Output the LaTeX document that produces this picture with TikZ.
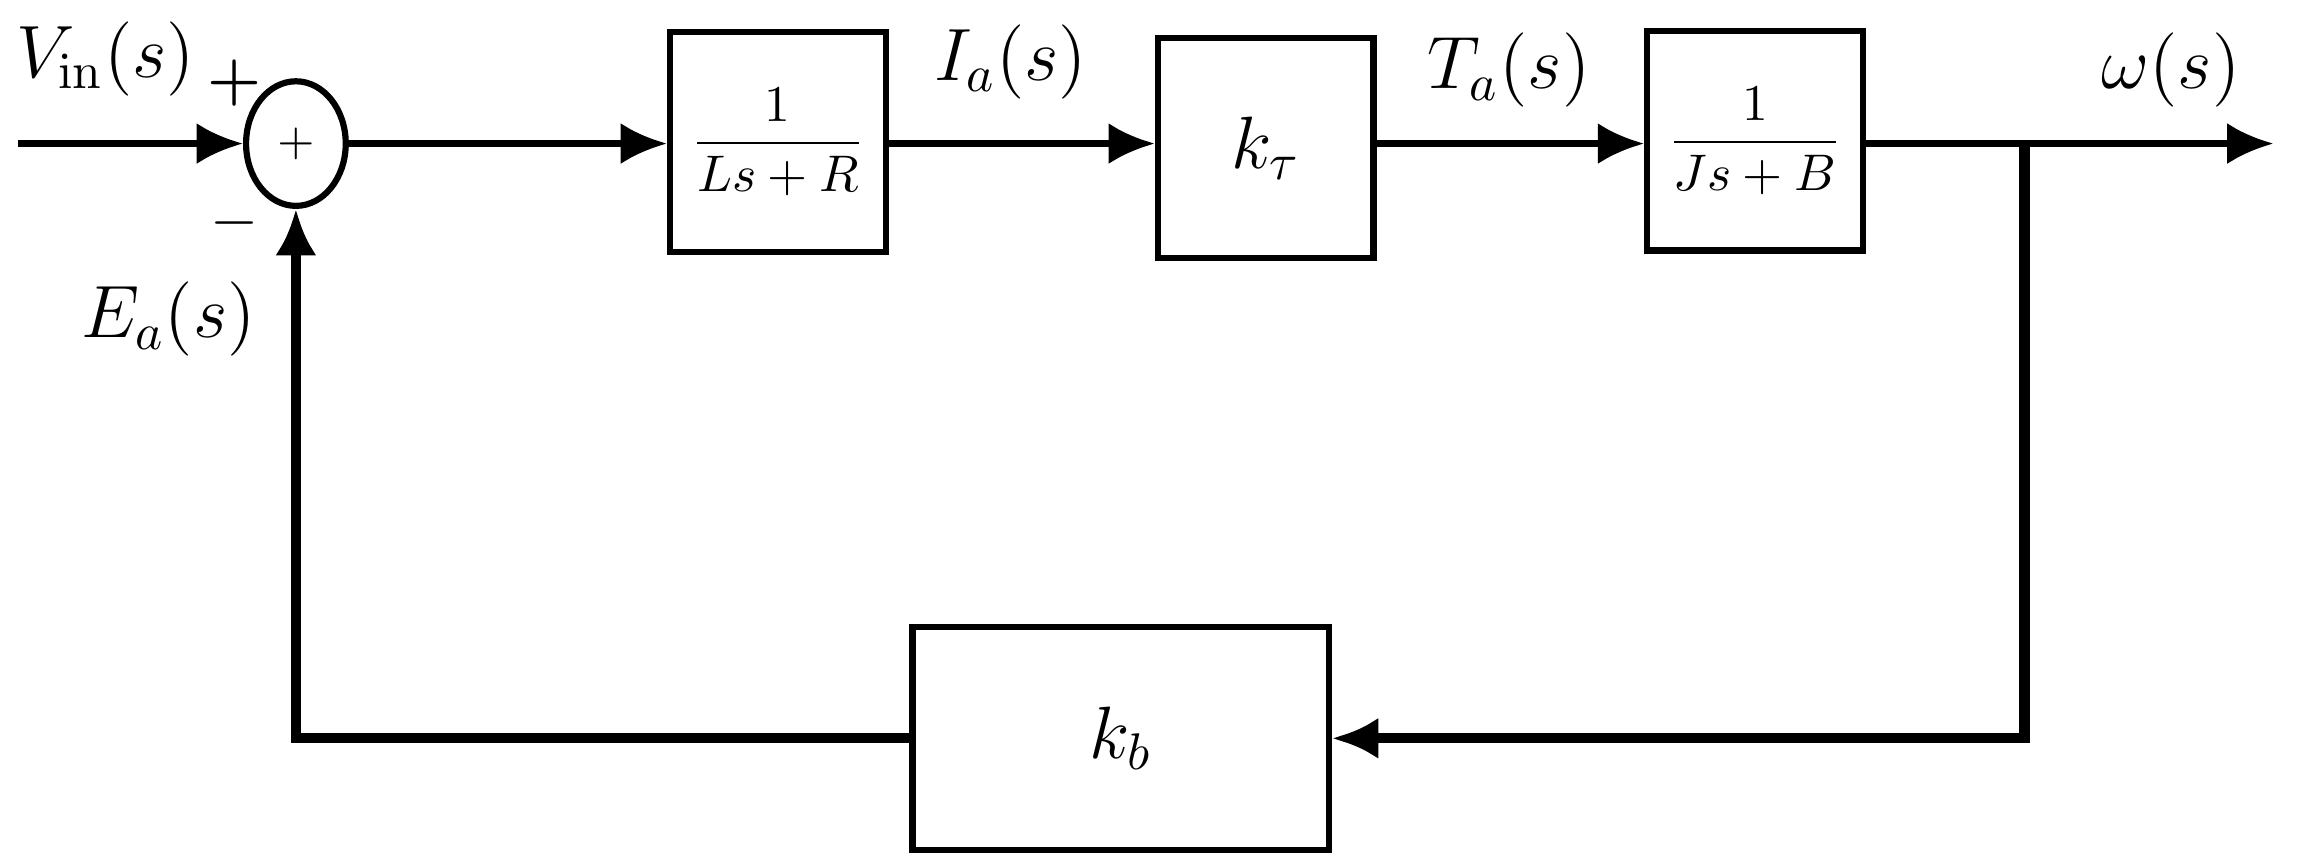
\documentclass[tikz,border=0pt]{standalone}
\usetikzlibrary{arrows.meta,shapes.geometric}
\begin{document}
\begin{tikzpicture}[x=0.01cm,y=-0.01cm,
 blk/.style={draw,line width=1.2pt,minimum width=1.47cm,minimum height=1.5cm,inner sep=0},
 sig/.style={line width=1.3pt,-{Latex[length=9pt,width=8pt]}},
 fb/.style={line width=2pt,-{Latex[length=9pt,width=8pt]}},
 lbl/.style={font=\fontsize{14}{17}\selectfont}]
\useasboundingbox (0,0) rectangle (1568,590);
\node[draw,ellipse,line width=1.2pt,minimum width=0.68cm,minimum height=0.85cm,inner sep=0] (sum) at (202,98) {\small $+$};
\coordinate (in) at (12,98);
\node[blk] (b1) at (531,97) {$\displaystyle\frac{1}{Ls+R}$};
\node[blk] (b2) at (864,101) {\Large $k_\tau$};
\node[blk] (b3) at (1198,96) {$\displaystyle\frac{1}{Js+B}$};
\node[draw,line width=1.2pt,minimum width=2.84cm,minimum height=1.52cm,inner sep=0] (kb) at (765,504) {\Large $k_b$};
\coordinate (out) at (1552,98);
\coordinate (tap) at (1382,98);
\draw[sig] (in) -- (sum.west);
\draw[sig] (sum.east) -- (b1.west |- sum.east);
\draw[sig] (b1.east |- 0,98) -- (b2.west |- 0,98);
\draw[sig] (b2.east |- 0,98) -- (b3.west |- 0,98);
\draw[sig] (b3.east |- 0,98) -- (out);
\draw[fb] (tap) |- (kb.east);
\draw[fb] (kb.west) -| (sum.south);
\node[lbl] at (72,40) {$V_{\mathrm{in}}(s)$};
\node[font=\large\bfseries] at (160,57) {+};
\node[font=\large] at (160,152) {$-$};
\node[lbl] at (115,218) {$E_a(s)$};
\node[lbl] at (690,42) {$I_a(s)$};
\node[lbl] at (1030,48) {$T_a(s)$};
\node[lbl] at (1482,48) {$\omega(s)$};
\end{tikzpicture}
\end{document}
